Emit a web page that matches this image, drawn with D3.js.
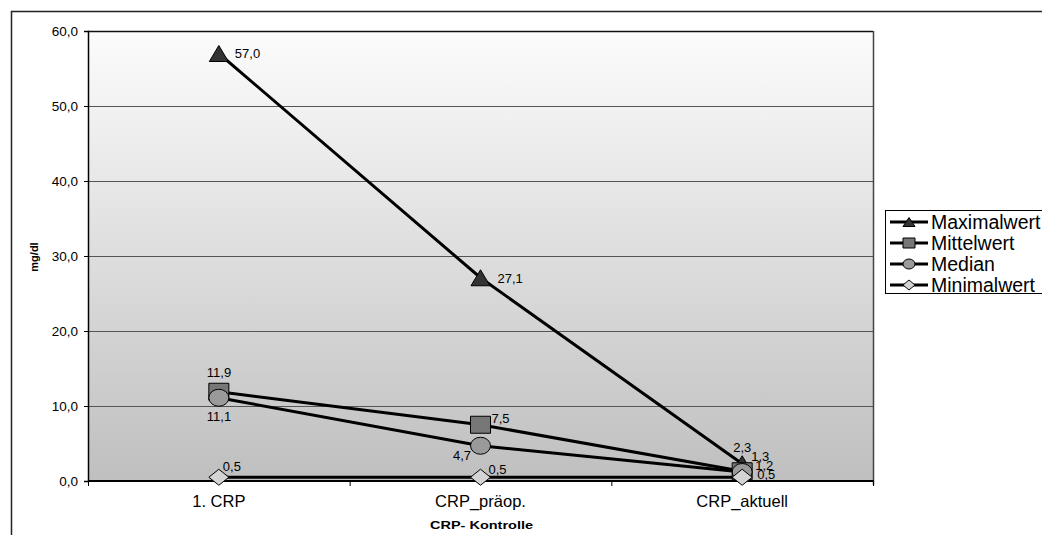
<!DOCTYPE html>
<html>
<head>
<meta charset="utf-8">
<script src="https://cdn.jsdelivr.net/npm/d3@7"></script>
<style>
  body { margin: 0; background: #fff; }
  text { font-family: "Liberation Sans", Arial, sans-serif; fill: #000; }
</style>
</head>
<body>
<div id="chart"></div>
<script>
// chart data
var categories = ["1. CRP", "CRP_präop.", "CRP_aktuell"];
var maxValues = [57.0, 27.1, 2.3];
var meanValues = [11.9, 7.5, 1.3];
var medianValues = [11.1, 4.7, 1.2];
var minValues = [0.5, 0.5, 0.5];
var yTicks = [0, 10, 20, 30, 40, 50, 60];
var seriesNames = ["Maximalwert", "Mittelwert", "Median", "Minimalwert"];

// data label offsets from each point [dx, dy] (labels crowd at the last category)
var maxLabelOffsets = [[16, 4.5], [17, 5], [-9, -12]];
var meanLabelOffsets = [[-12, -15], [11, -2], [9, -10]];
var medianLabelOffsets = [[-12, 23], [-27.5, 14], [13, -2]];
var minLabelOffsets = [[4, -6], [8, -3], [15, 2]];

var svgWidth = 1042;
var svgHeight = 535;

var plot = { left: 88, top: 31, right: 873, bottom: 481 };

var svg = d3.select("#chart")
  .append("svg")
  .attr("width", svgWidth)
  .attr("height", svgHeight);

// background gradient of the plot area
var grad = svg.append("defs").append("linearGradient")
  .attr("id", "bg")
  .attr("x1", 0).attr("y1", 0).attr("x2", 0).attr("y2", 1);
grad.append("stop").attr("offset", "0%").attr("stop-color", "#fcfcfc");
grad.append("stop").attr("offset", "100%").attr("stop-color", "#bfbfbf");

// outer chart frame (runs off the page right and bottom)
svg.append("path")
  .attr("d", "M11.5," + svgHeight + " V11.5 H" + svgWidth)
  .attr("fill", "none")
  .attr("stroke", "#222")
  .attr("stroke-width", 1.5);

var xScale = d3.scaleBand()
  .domain(categories)
  .range([plot.left, plot.right]);

var yScale = d3.scaleLinear()
  .domain([0, 60])
  .range([plot.bottom, plot.top]);

svg.append("rect")
  .attr("x", plot.left)
  .attr("y", plot.top)
  .attr("width", plot.right - plot.left)
  .attr("height", plot.bottom - plot.top)
  .attr("fill", "url(#bg)");

// gridlines
svg.append("g")
  .selectAll("line")
  .data(yTicks.filter(function(d) { return d > 0; }))
  .enter()
  .append("line")
  .attr("x1", plot.left)
  .attr("x2", plot.right)
  .attr("y1", function(d) { return yScale(d) + 0.5; })
  .attr("y2", function(d) { return yScale(d) + 0.5; })
  .attr("stroke", function(d) { return d === 60 ? "#111" : "#555"; })
  .attr("stroke-width", function(d) { return d === 60 ? 1.5 : 1; });

// right border
svg.append("line")
  .attr("x1", plot.right + 0.5).attr("x2", plot.right + 0.5)
  .attr("y1", plot.top).attr("y2", plot.bottom + 4)
  .attr("stroke", "#444")
  .attr("stroke-width", 1.5);

var fmt = function(v) { return d3.format(".1f")(v).replace(".", ","); };

// y axis
var leftAxis = d3.axisLeft(yScale)
  .tickValues(yTicks)
  .tickSize(4)
  .tickPadding(6)
  .tickFormat(fmt);

var yAxis = svg.append("g")
  .attr("transform", "translate(" + plot.left + ",0)")
  .call(leftAxis);
yAxis.select(".domain").attr("stroke", "#000").attr("stroke-width", 1.5);
yAxis.selectAll(".tick line").attr("stroke", "#000");
yAxis.selectAll("text")
  .attr("font-size", "13.5px")
  .attr("fill", "#111")
  .style("font-family", "'Liberation Sans', Arial, sans-serif");

// x axis
var bottomAxis = d3.axisBottom(xScale)
  .tickSize(0)
  .tickPadding(14);

var xAxis = svg.append("g")
  .attr("transform", "translate(0," + plot.bottom + ")")
  .call(bottomAxis);
xAxis.select(".domain").remove();
xAxis.selectAll("text")
  .attr("font-size", "16.5px")
  .attr("fill", "#111")
  .style("font-family", "'Liberation Sans', Arial, sans-serif");

// x tick marks on the category borders
var borders = categories.map(function(c) { return xScale(c); }).concat([plot.right]);
svg.append("g")
  .selectAll("line")
  .data(borders)
  .enter()
  .append("line")
  .attr("x1", function(d) { return d + 0.5; })
  .attr("x2", function(d) { return d + 0.5; })
  .attr("y1", plot.bottom)
  .attr("y2", plot.bottom + 5)
  .attr("stroke", "#000");

svg.append("line")
  .attr("x1", plot.left).attr("x2", plot.right + 1)
  .attr("y1", plot.bottom).attr("y2", plot.bottom)
  .attr("stroke", "#000")
  .attr("stroke-width", 2);

// axis titles
svg.append("text")
  .attr("x", 430)
  .attr("y", 529)
  .attr("font-size", "10px")
  .attr("font-weight", "bold")
  .attr("textLength", 103)
  .attr("lengthAdjust", "spacingAndGlyphs")
  .text("CRP- Kontrolle");

svg.append("text")
  .attr("transform", "translate(37.5,257) rotate(-90)")
  .attr("text-anchor", "middle")
  .attr("font-size", "11px")
  .attr("font-weight", "bold")
  .text("mg/dl");

// marker shapes
var shapes = {
  triangle: function(w, h) { return "M0," + (-h) + "L" + w + "," + h + "L" + (-w) + "," + h + "Z"; },
  square: function(w, h) { return "M" + (-w) + "," + (-h) + "H" + w + "V" + h + "H" + (-w) + "Z"; },
  circle: function(w, h) {
    return "M" + (-w) + ",0A" + w + "," + h + " 0 1,0 " + w + ",0A" + w + "," + h + " 0 1,0 " + (-w) + ",0Z";
  },
  diamond: function(w, h) { return "M0," + (-h) + "L" + w + ",0L0," + h + "L" + (-w) + ",0Z"; }
};

var series = [
  { name: seriesNames[0], values: maxValues, shape: "triangle", fill: "#333", w: 9.5, h: 8, labels: maxLabelOffsets },
  { name: seriesNames[1], values: meanValues, shape: "square", fill: "#777", w: 10, h: 8.5, labels: meanLabelOffsets },
  { name: seriesNames[2], values: medianValues, shape: "circle", fill: "#9a9a9a", w: 10, h: 8.5, labels: medianLabelOffsets },
  { name: seriesNames[3], values: minValues, shape: "diamond", fill: "#d4d4d4", w: 10, h: 8, labels: minLabelOffsets }
];

var xCenter = function(i) { return xScale(categories[i]) + xScale.bandwidth() / 2; };

var line = d3.line()
  .x(function(d, i) { return xCenter(i); })
  .y(function(d) { return yScale(d); });

// lines
series.forEach(function(s) {
  svg.append("path")
    .datum(s.values)
    .attr("d", line)
    .attr("fill", "none")
    .attr("stroke", "#000")
    .attr("stroke-width", 3);
});

// markers, later series on top
series.forEach(function(s) {
  svg.append("g")
    .selectAll("path")
    .data(s.values)
    .enter()
    .append("path")
    .attr("transform", function(d, i) { return "translate(" + xCenter(i) + "," + yScale(d) + ")"; })
    .attr("d", shapes[s.shape](s.w, s.h))
    .attr("fill", s.fill)
    .attr("stroke", "#000")
    .attr("stroke-width", 1);
});

// data labels
series.forEach(function(s) {
  svg.append("g")
    .selectAll("text")
    .data(s.values)
    .enter()
    .append("text")
    .attr("x", function(d, i) { return xCenter(i) + s.labels[i][0]; })
    .attr("y", function(d, i) { return yScale(d) + s.labels[i][1]; })
    .attr("font-size", "13px")
    .attr("fill", "#111")
    .text(fmt);
});

// legend
var legend = svg.append("g");
legend.append("rect")
  .attr("x", 885.5)
  .attr("y", 210.5)
  .attr("width", 200)
  .attr("height", 83)
  .attr("fill", "#fff")
  .attr("stroke", "#000");

var items = legend.selectAll(".item")
  .data(series)
  .enter()
  .append("g")
  .attr("transform", function(d, i) { return "translate(0," + (222 + i * 21) + ")"; });

items.append("line")
  .attr("x1", 890).attr("x2", 928)
  .attr("stroke", "#000")
  .attr("stroke-width", 3);

items.append("path")
  .attr("transform", "translate(909,0)")
  .attr("d", function(d) { return shapes[d.shape](6, d.shape === "triangle" ? 4.5 : 5); })
  .attr("fill", function(d) { return d.fill; })
  .attr("stroke", "#000");

items.append("text")
  .attr("x", 931)
  .attr("y", 7)
  .attr("font-size", "19.5px")
  .text(function(d) { return d.name; });
</script>
</body>
</html>
